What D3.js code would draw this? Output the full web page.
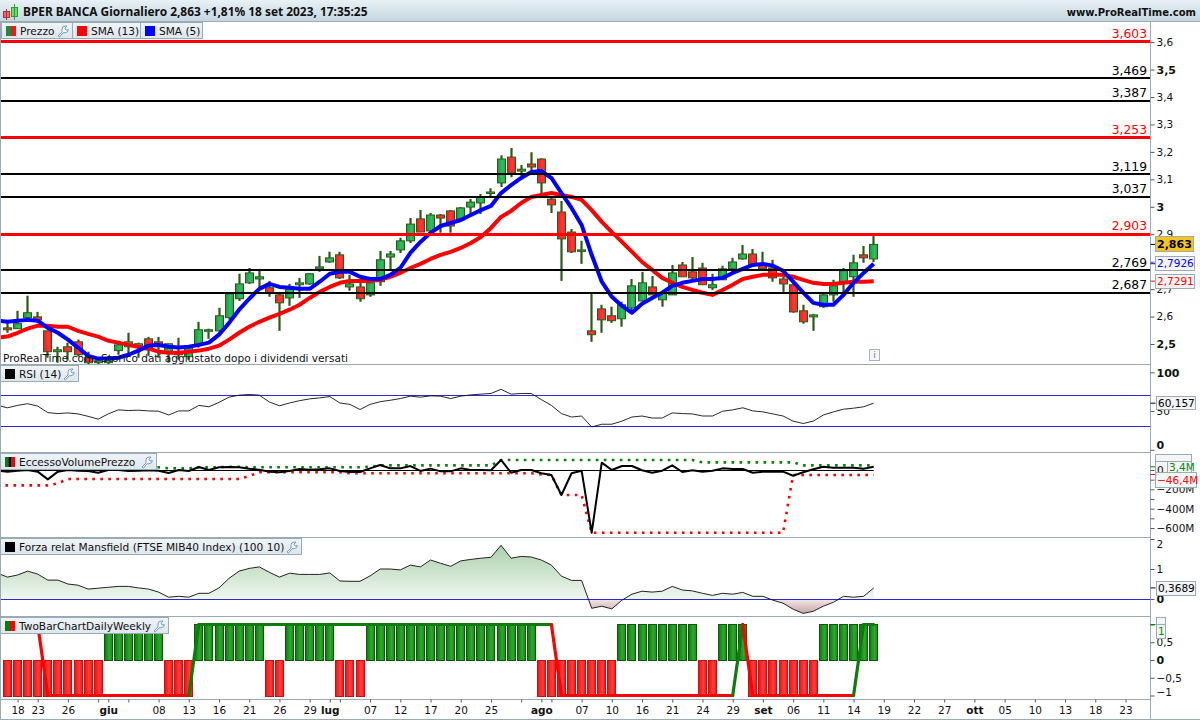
<!DOCTYPE html>
<html><head><meta charset="utf-8">
<script src="https://cdnjs.cloudflare.com/ajax/libs/d3/7.8.5/d3.min.js"></script>
<style>html,body{margin:0;padding:0;background:#fff}svg{display:block}text{font-family:"DejaVu Sans",sans-serif}</style>
</head><body><svg id="c" width="1200" height="720"></svg>
<script>
// ---------- data ----------
const open=[2.559,2.556,2.596,2.599,2.548,2.472,2.490,2.508,2.450,2.432,2.432,2.476,2.490,2.487,2.519,2.508,2.472,2.461,2.454,2.497,2.548,2.548,2.596,2.665,2.723,2.737,2.705,2.679,2.668,2.716,2.719,2.774,2.799,2.825,2.708,2.708,2.679,2.727,2.817,2.843,2.876,2.956,2.912,2.970,2.985,2.952,2.999,3.014,3.050,3.087,3.181,3.130,3.156,3.174,3.028,2.981,2.908,2.839,2.548,2.628,2.603,2.592,2.632,2.657,2.708,2.661,2.679,2.788,2.763,2.777,2.705,2.734,2.774,2.810,2.828,2.785,2.777,2.737,2.716,2.621,2.599,2.636,2.679,2.727,2.745,2.825,2.810];
const close=[2.552,2.574,2.614,2.588,2.472,2.479,2.472,2.461,2.432,2.439,2.450,2.497,2.508,2.501,2.479,2.490,2.501,2.472,2.494,2.552,2.552,2.603,2.683,2.719,2.759,2.745,2.687,2.650,2.701,2.723,2.756,2.781,2.814,2.741,2.719,2.665,2.723,2.807,2.828,2.876,2.937,2.908,2.970,2.959,2.930,2.996,3.017,3.036,3.054,3.174,3.123,3.137,3.145,3.087,3.007,2.883,2.836,2.843,2.534,2.588,2.585,2.643,2.712,2.723,2.679,2.687,2.759,2.745,2.741,2.716,2.716,2.774,2.799,2.828,2.788,2.774,2.741,2.719,2.617,2.581,2.606,2.679,2.712,2.767,2.796,2.814,2.863];
const high=[2.588,2.621,2.676,2.617,2.548,2.490,2.505,2.516,2.472,2.450,2.457,2.512,2.541,2.505,2.526,2.526,2.501,2.523,2.494,2.581,2.556,2.632,2.683,2.756,2.777,2.767,2.730,2.683,2.719,2.741,2.759,2.821,2.836,2.836,2.752,2.727,2.730,2.839,2.839,2.887,2.959,2.988,2.977,2.974,2.988,2.999,3.028,3.047,3.068,3.188,3.214,3.152,3.199,3.177,3.039,3.021,2.919,2.876,2.687,2.643,2.636,2.654,2.737,2.763,2.748,2.687,2.788,2.799,2.817,2.796,2.756,2.785,2.814,2.861,2.846,2.836,2.807,2.745,2.719,2.643,2.610,2.687,2.734,2.777,2.825,2.857,2.894];
const low=[2.541,2.556,2.581,2.577,2.450,2.432,2.439,2.454,2.421,2.414,2.421,2.461,2.461,2.450,2.457,2.450,2.432,2.443,2.443,2.487,2.519,2.541,2.588,2.657,2.719,2.697,2.672,2.548,2.639,2.668,2.716,2.763,2.796,2.737,2.694,2.654,2.672,2.712,2.770,2.832,2.868,2.908,2.912,2.905,2.905,2.952,2.974,2.974,3.036,3.072,3.108,3.112,3.134,3.047,2.977,2.730,2.832,2.792,2.508,2.541,2.577,2.563,2.617,2.657,2.679,2.636,2.679,2.745,2.734,2.716,2.697,2.734,2.759,2.807,2.788,2.770,2.727,2.690,2.614,2.574,2.548,2.632,2.654,2.672,2.672,2.796,2.799];
// the line series start one bar before the first candle, at the chart's left edge
const sma5=[2.585,2.581,2.585,2.588,2.585,2.559,2.541,2.516,2.487,2.457,2.447,2.447,2.450,2.461,2.476,2.494,2.497,2.490,2.487,2.490,2.497,2.505,2.534,2.577,2.625,2.665,2.701,2.719,2.708,2.705,2.701,2.701,2.727,2.756,2.763,2.763,2.745,2.737,2.737,2.752,2.777,2.832,2.872,2.905,2.930,2.941,2.952,2.970,2.988,3.003,3.050,3.079,3.105,3.127,3.130,3.105,3.050,2.996,2.934,2.825,2.727,2.672,2.639,2.614,2.647,2.668,2.687,2.712,2.723,2.730,2.737,2.737,2.741,2.759,2.774,2.788,2.792,2.785,2.767,2.727,2.687,2.650,2.643,2.643,2.679,2.723,2.759,2.7926];
const sma13=[2.523,2.527,2.541,2.556,2.567,2.567,2.563,2.563,2.548,2.537,2.527,2.512,2.505,2.497,2.490,2.483,2.472,2.468,2.468,2.472,2.476,2.483,2.494,2.516,2.541,2.563,2.581,2.596,2.610,2.625,2.643,2.668,2.690,2.708,2.723,2.730,2.730,2.730,2.734,2.745,2.759,2.777,2.792,2.810,2.825,2.836,2.850,2.868,2.890,2.923,2.963,2.985,3.014,3.036,3.043,3.050,3.043,3.036,3.025,2.988,2.945,2.908,2.872,2.836,2.799,2.770,2.741,2.723,2.708,2.697,2.687,2.679,2.697,2.716,2.737,2.745,2.752,2.752,2.752,2.745,2.734,2.723,2.719,2.719,2.723,2.727,2.727,2.7291];
const rsi=[57.3,54.2,57.3,59.5,56.4,48.0,46.7,47.6,46.3,43.2,39.6,46.3,51.5,50.7,51.1,50.2,49.8,44.9,50.2,50.2,57.3,55.5,61.2,67.9,70.5,71.4,70.5,61.7,56.8,60.4,63.4,65.7,67.0,68.7,60.4,58.6,52.0,58.6,62.1,63.9,66.1,69.2,67.9,69.6,69.2,66.1,69.2,70.9,71.8,72.7,78.0,71.8,72.7,72.7,64.8,57.3,46.7,42.3,43.6,29.5,33.0,33.0,37.0,42.3,43.6,41.0,41.0,47.6,46.7,46.3,43.6,43.6,49.8,51.5,54.2,50.2,48.9,46.3,43.6,37.0,33.9,37.0,44.9,48.9,52.4,53.7,55.5,60.157];
const evp=[-7,-17,-7,0,-17,-97,-17,0,-7,-10,-28,0,0,-10,-7,-3,-7,-31,0,-10,31,0,28,31,28,14,3,-17,-24,-10,10,3,7,17,-10,-21,-21,17,52,17,17,41,-10,14,-14,-14,17,0,0,-3,104,-28,0,0,-34,-52,-259,-34,-7,-649,76,0,41,41,-3,-28,-7,48,-21,-3,-17,-7,17,10,10,-28,-17,-17,-17,-59,-24,7,34,24,24,24,14,33.4];
const evpUpper=[28,28,28,28,28,28,28,28,28,28,28,28,28,28,28,28,28,17,17,17,28,28,28,34,34,28,28,28,28,28,28,28,28,28,28,28,28,34,48,48,48,48,48,48,48,48,48,48,48,48,104,104,104,104,104,104,104,104,104,104,104,104,104,104,104,104,104,104,104,104,79,79,79,79,79,79,79,79,79,79,48,48,48,48,48,48,48,48];
const evpLower=[-159,-159,-159,-159,-159,-159,-138,-93,-93,-93,-93,-93,-93,-93,-93,-93,-93,-93,-93,-93,-93,-93,-93,-93,-93,-62,-24,-24,-24,-24,-24,-24,-24,-24,-24,-34,-34,-34,-34,-34,-34,-34,-34,-34,-34,-34,-34,-34,-34,-34,-34,-34,-34,-34,-45,-52,-259,-259,-259,-649,-649,-649,-649,-649,-649,-649,-649,-649,-649,-649,-649,-649,-649,-649,-649,-649,-649,-649,-649,-52,-52,-52,-52,-52,-52,-52,-52,-52];
const mansfield=[.86,.73,.80,.93,.83,.63,.63,.50,.46,.33,.36,.39,.42,.42,.37,.33,.23,.06,.09,.06,.19,.19,.37,.69,.93,1.02,1.07,.89,.73,.86,.82,.82,.82,.87,.60,.59,.59,.77,1.00,1.00,.97,1.13,1.07,1.30,1.19,1.09,1.27,1.32,1.36,1.39,1.79,1.36,1.42,1.40,1.30,1.13,.76,.62,.62,-.31,-.24,-.33,-.04,.16,.26,.23,.26,.42,.30,.27,.19,.12,.19,.16,.22,.09,.09,-.04,-.14,-.34,-.48,-.41,-.24,-.11,.09,.06,.09,.3689];
const daily=[-1,-1,-1,-1,-1,-1,-1,-1,-1,-1,1,1,1,1,1,1,-1,-1,-1,1,1,1,1,1,1,1,-1,-1,1,1,1,1,1,-1,-1,-1,1,1,1,1,1,1,1,1,1,1,1,1,1,1,1,1,1,-1,-1,-1,-1,-1,-1,-1,-1,1,1,1,1,1,1,1,1,-1,-1,1,1,1,-1,-1,-1,-1,-1,-1,-1,1,1,1,1,1,1];
const weekly=[1,1,1,1,-1,-1,-1,-1,-1,-1,-1,-1,-1,-1,-1,-1,-1,-1,-1,1,1,1,1,1,1,1,1,1,1,1,1,1,1,1,1,1,1,1,1,1,1,1,1,1,1,1,1,1,1,1,1,1,1,1,1,-1,-1,-1,-1,-1,-1,-1,-1,-1,-1,-1,-1,-1,-1,-1,-1,-1,-1,1,-1,-1,-1,-1,-1,-1,-1,-1,-1,-1,-1,1,1];
const levelValues=[3.603,3.469,3.387,3.253,3.119,3.037,2.903,2.769,2.687];
const levelColors=["red","black","black","red","black","black","red","black","black"];
const tickIndex=[1,3,6,10,15,18,21,24,27,30,32,36,39,42,45,48,53,57,60,63,66,69,72,75,78,81,84,87,90,93,96,99,102,105,108,111];
const tickLabels=["18","23","26","giu","08","13","16","21","26","29","lug","07","12","17","20","25","ago","07","10","16","21","24","29","set","06","11","14","19","22","27","ott","05","10","13","18","23"];
const minorTickIndex=[9,12,33,51,54];
const monthLabels=["giu","lug","ago","set","ott"];
const priceTicks=[3.6,3.5,3.4,3.3,3.2,3.1,3,2.9,2.8,2.7,2.6,2.5];
const rsiTicks=[100,50,0];
const evpTicks=[0,-200,-400,-600];
const evpMinorTicks=[-100,-300,-500];
const mansTicks=[2,1,0];
const twoTicks=[1,.5,0,-.5,-1];
const titleText="BPER BANCA Giornaliero 2,863 +1,81% 18 set 2023, 17:35:25";

// ---------- scales ----------
const svg=d3.select("#c");
const n=close.length, idx=d3.range(n);
const x=d3.scaleLinear().domain([0,111]).range([7.5,1125.5]);
const yP=d3.scaleLinear().domain([3.603,2.687]).range([41.3,292.7]);
const yR=d3.scaleLinear().domain([0,100]).range([449.8,372.3]);
const yE=d3.scaleLinear().domain([0,-600]).range([470,528]);
const yM=d3.scaleLinear().domain([0,2]).range([599,539]);
const yT=d3.scaleLinear().domain([-1,1]).range([695.5,624.5]);
const PLOTR=1150.5, BW=8;
const fmt=v=>String(v).replace(".",",").replace("-","\u2212");
const snapL=i=>Math.floor(x(i)-4)+.5;   // crisp left edge of a bar
const lx=(d,i)=>x(i-1);                 // line series begin one bar earlier
const border="#9aabb6";

// ---------- defs ----------
const defs=svg.append("defs");
function grad(id,stops,horizontal=false,user=null){
  const g=defs.append("linearGradient").attr("id",id);
  if(user) g.attr("gradientUnits","userSpaceOnUse").attr("x1",0).attr("x2",0).attr("y1",user[0]).attr("y2",user[1]);
  else if(horizontal) g.attr("x1",0).attr("x2",1).attr("y1",0).attr("y2",0);
  else g.attr("x1",0).attr("x2",0).attr("y1",0).attr("y2",1);
  stops.forEach(s=>g.append("stop").attr("offset",s[0]).attr("stop-color",s[1]));
}
grad("gTitle",[[0,"#e8f1f6"],[1,"#c5d6e0"]]);
grad("gLeg",[[0,"#f0f4f7"],[1,"#dde6ec"]]);
grad("gCG",[[0,"#0f9c40"],[.6,"#36bd60"],[1,"#1ea84c"]],true);
grad("gCR",[[0,"#ff1414"],[.6,"#ff3c3c"],[1,"#ff1c1c"]],true);
grad("gBG",[[0,"#0c7a0c"],[.6,"#2fa82f"],[1,"#178c17"]],true);
grad("gBR",[[0,"#f80c0c"],[.6,"#ff4040"],[1,"#f81010"]],true);
grad("gMans",[[0,"#abd0ab"],[.757,"#f0f7f0"],[.757,"#f3e8e8"],[1,"#c09a9a"]],false,[545,616.3]);
[["cP",22,342],["cR",365,87],["cE",453,84],["cM",538,78],["cT",617,82]].forEach(c=>
  defs.append("clipPath").attr("id",c[0]).append("rect").attr("x",1).attr("y",c[1]).attr("width",PLOTR-1).attr("height",c[2]));

// ---------- price panel ----------
const gP=svg.append("g").attr("clip-path","url(#cP)");
const wick="#2c5a16";
gP.selectAll("line.w").data(idx).join("line").attr("class","w")
  .attr("x1",i=>snapL(i)+4).attr("x2",i=>snapL(i)+4).attr("y1",i=>yP(high[i])).attr("y2",i=>yP(low[i]))
  .attr("stroke",wick).attr("stroke-width",2.2);
gP.selectAll("rect.b").data(idx).join("rect").attr("class","b")
  .attr("x",snapL).attr("width",BW)
  .attr("y",i=>yP(Math.max(open[i],close[i])))
  .attr("height",i=>Math.max(1.5,Math.abs(yP(open[i])-yP(close[i]))))
  .attr("fill",i=>close[i]>=open[i]?"url(#gCG)":"url(#gCR)")
  .attr("stroke",wick).attr("stroke-width",1);
const lP=s=>d3.line().x(lx).y(d=>yP(d))(s);
gP.append("path").attr("d",lP(sma13)).attr("fill","none").attr("stroke","#f00").attr("stroke-width",4).attr("stroke-linejoin","round");
gP.append("path").attr("d",lP(sma5)).attr("fill","none").attr("stroke","#00f").attr("stroke-width",4).attr("stroke-linejoin","round");
const levelY=(d,i)=>levelColors[i]==="red"?Math.floor(yP(d)+.6)+.5:Math.round(yP(d));
gP.selectAll("line.l").data(levelValues).join("line").attr("class","l")
  .attr("x1",1).attr("x2",PLOTR).attr("y1",levelY).attr("y2",levelY)
  .attr("stroke",(d,i)=>levelColors[i]==="red"?"#f00":"#000").attr("stroke-width",(d,i)=>levelColors[i]==="red"?3:2);
svg.selectAll("text.lv").data(levelValues).join("text").attr("class","lv")
  .attr("x",1147).attr("y",d=>yP(d)-3.5).attr("text-anchor","end").attr("font-size",12.3)
  .attr("fill",(d,i)=>levelColors[i]==="red"?"#f00":"#000").text(d=>String(d).replace(".",","));
svg.append("text").attr("x",3).attr("y",362).attr("font-size",10.55).attr("fill","#111")
  .text("ProRealTime.com: Storico dati aggiustato dopo i dividendi versati");
svg.append("rect").attr("x",869.5).attr("y",349.5).attr("width",10).attr("height",11).attr("fill","#f4f6f7").attr("stroke","#a8b4bc");
svg.append("text").attr("x",874.5).attr("y",358).attr("text-anchor","middle").attr("font-size",8).attr("fill","#667").text("i");

// ---------- RSI ----------
const gR=svg.append("g").attr("clip-path","url(#cR)");
[70,30].forEach(v=>gR.append("line").attr("x1",1).attr("x2",PLOTR).attr("y1",Math.floor(yR(v))+.5).attr("y2",Math.floor(yR(v))+.5).attr("stroke","#2a2ad2").attr("stroke-width",1));
gR.append("path").attr("d",d3.line().x(lx).y(d=>yR(d))(rsi)).attr("fill","none").attr("stroke","#111").attr("stroke-width",.9);

// ---------- volume excess ----------
const gE=svg.append("g").attr("clip-path","url(#cE)");
const lE=d3.line().x(lx).y(d=>yE(d));
gE.append("line").attr("x1",1).attr("x2",x(n-1)).attr("y1",yE(0)+.5).attr("y2",yE(0)+.5).attr("stroke","#000").attr("stroke-width",1);
gE.append("path").attr("d",lE(evpUpper)).attr("fill","none").attr("stroke","#0a7d0a").attr("stroke-width",2.6).attr("stroke-dasharray","2.6 5.4");
gE.append("path").attr("d",lE(evpLower)).attr("fill","none").attr("stroke","#f00").attr("stroke-width",2.6).attr("stroke-dasharray","2.6 5.4");
gE.append("path").attr("d",lE(evp)).attr("fill","none").attr("stroke","#000").attr("stroke-width",2).attr("stroke-linejoin","round");

// ---------- Mansfield ----------
const gM=svg.append("g").attr("clip-path","url(#cM)");
gM.append("path").attr("d",d3.area().x(lx).y0(yM(0)).y1(d=>yM(d))(mansfield)).attr("fill","url(#gMans)");
gM.append("line").attr("x1",1).attr("x2",PLOTR).attr("y1",yM(0)+.5).attr("y2",yM(0)+.5).attr("stroke","#2a2ad2").attr("stroke-width",1);
gM.append("path").attr("d",d3.line().x(lx).y(d=>yM(d))(mansfield)).attr("fill","none").attr("stroke","#222").attr("stroke-width",1);

// ---------- two bar ----------
const gT=svg.append("g").attr("clip-path","url(#cT)");
gT.selectAll("rect.t").data(idx).join("rect").attr("class","t")
  .attr("x",snapL).attr("width",BW)
  .attr("y",i=>Math.floor(daily[i]>0?yT(1):yT(0))+.5).attr("height",i=>Math.round(Math.abs(yT(daily[i])-yT(0))))
  .attr("fill",i=>daily[i]>0?"url(#gBG)":"url(#gBR)")
  .attr("stroke",i=>daily[i]>0?"#0a5a0a":"#c81010").attr("stroke-width",1);
const segL=d3.line().x(i=>x(i)).y(i=>yT(weekly[i]));
idx.slice(1).forEach(i=>gT.append("path").attr("d",segL([i-1,i])).attr("stroke",weekly[i]>0?"#0a7d0a":"#f00").attr("stroke-width",3.2).attr("stroke-linecap","round").attr("fill","none"));

// ---------- frame ----------
const sep=(x1,y1,x2,y2)=>svg.append("line").attr("x1",x1).attr("y1",y1).attr("x2",x2).attr("y2",y2).attr("stroke",border).attr("stroke-width",1);
[364.5,452.5,537.5,616.5].forEach(y=>sep(0,y,PLOTR,y));
sep(0,699.5,PLOTR,699.5); sep(0,719.5,1200,719.5); sep(PLOTR,21,PLOTR,720); sep(.5,21,.5,720);

// ---------- title ----------
svg.append("rect").attr("width",1200).attr("height",21).attr("fill","url(#gTitle)");
sep(0,21.5,1200,21.5);
svg.append("rect").attr("x",3.5).attr("y",11.5).attr("width",6).attr("height",6).attr("fill","#ee6a6a").attr("stroke","#a33");
svg.append("line").attr("x1",6.5).attr("x2",6.5).attr("y1",9).attr("y2",20).attr("stroke","#a33");
svg.append("rect").attr("x",11.5).attr("y",7.5).attr("width",6).attr("height",9).attr("fill","#66dd66").attr("stroke","#393");
svg.append("line").attr("x1",14.5).attr("x2",14.5).attr("y1",4).attr("y2",20).attr("stroke","#393");
svg.append("text").attr("x",23).attr("y",16).attr("font-size",11.9).attr("font-weight","bold").attr("fill","#111")
  .style("font-family",'"Noto Sans",sans-serif').text(titleText);
svg.append("text").attr("x",1196).attr("y",16).attr("text-anchor","end").attr("font-size",10).attr("font-weight","bold").attr("fill","#111").text("www.ProRealTime.com");

// ---------- legends ----------
function wrench(px,py){
  svg.append("path").attr("transform",`translate(${px},${py})`)
    .attr("d","M1 11 L5 7 L5 4 Q5 1 8.5 1 L10 1 L8 3.2 L9 5 L11.3 4.6 Q11.5 7.5 8 7.7 L6 7.8 L2.5 12 Z")
    .attr("fill","#f6f9fb").attr("stroke","#6b93b5").attr("stroke-width",.9);
}
function legend(x0,x1,y0,y1,colors,label,wr){
  svg.append("rect").attr("x",x0+.5).attr("y",y0+.5).attr("width",x1-x0).attr("height",y1-y0).attr("fill","url(#gLeg)").attr("stroke",border);
  const sw=10/colors.length;
  colors.forEach((c,i)=>svg.append("rect").attr("x",x0+5+i*sw).attr("y",y0+4).attr("width",sw).attr("height",10).attr("fill",c));
  svg.append("text").attr("x",x0+19).attr("y",y0+13).attr("font-size",10.6).attr("fill","#111").text(label);
  if(wr) wrench(x1-15,y0+3);
}
legend(1,72,22,38,["#1a8c3c","#f01818"],"Prezzo",true);
legend(72,140,22,38,["#f00"],"SMA (13)",false);
legend(140,202,22,38,["#00f"],"SMA (5)",false);
legend(0,78,365,381,["#000"],"RSI (14)",true);
legend(0,156,453,469,["#0a7d0a","#000","#f00"],"EccessoVolumePrezzo",true);
legend(0,301,538,554,["#000"],"Forza relat Mansfield (FTSE MIB40 Index) (100 10)",true);
legend(0,168,617,633,["#0a7d0a","#f00"],"TwoBarChartDailyWeekly",true);

// ---------- axes ----------
const boldVals=new Set([3.5,3,2.5,100,0]);
function axis(scale,ticks,format,shift={}){
  const g=svg.append("g").attr("transform",`translate(${PLOTR},0)`)
    .call(d3.axisRight(scale).tickValues(ticks).tickSize(4).tickPadding(2).tickFormat(format));
  g.select(".domain").remove();
  g.selectAll(".tick line").attr("stroke","#556");
  g.selectAll(".tick text").attr("fill","#111")
    .attr("font-family",'"DejaVu Sans",sans-serif')
    .attr("font-size",d=>boldVals.has(d)&&scale!==yE?11:10.5)
    .attr("font-weight",d=>boldVals.has(d)&&scale!==yE?"bold":"normal")
    .attr("y",d=>shift[d]||0);
}
axis(yP,priceTicks,d=>fmt(d));
axis(yR,rsiTicks,d=>fmt(d),{0:-5,100:.5});
axis(yE,evpTicks,d=>d===0?"0":fmt(d)+"M");
axis(yE,evpMinorTicks,()=>"");
axis(yM,mansTicks,d=>fmt(d),{2:5.5});
axis(yT,twoTicks,d=>fmt(d),{"-1":-3.5});

function xAxis(ticks,format){
  const g=svg.append("g").attr("transform","translate(0,699.5)")
    .call(d3.axisBottom(x).tickValues(ticks).tickSize(3).tickPadding(4).tickFormat(format));
  g.select(".domain").remove();
  g.selectAll(".tick line").attr("stroke","#556");
  return g;
}
xAxis(minorTickIndex,()=>"");
xAxis(tickIndex,(d,i)=>tickLabels[i]).selectAll(".tick text").attr("fill","#111").attr("font-family",'"DejaVu Sans",sans-serif').attr("font-size",10.5)
  .attr("font-weight",(d,i)=>monthLabels.includes(tickLabels[i])?"bold":"normal");

// ---------- value badges ----------
function badge(x0,y0,w,h,txt,color,fill="#f3f5f6",weight="normal",size=10.5){
  svg.append("rect").attr("x",x0+.5).attr("y",y0+.5).attr("width",w).attr("height",h).attr("fill",fill).attr("stroke",border);
  if(txt) svg.append("text").attr("x",x0+2).attr("y",y0+h/2+4).attr("font-size",size).attr("font-weight",weight).attr("fill",color).text(txt);
}
const tk=(y,c)=>svg.append("line").attr("x1",PLOTR).attr("x2",PLOTR+5).attr("y1",y).attr("y2",y).attr("stroke",c);
tk(yP(2.863),"#000"); tk(yP(2.7926),"#00f"); tk(yP(2.7291),"#f00");
badge(1155,236,38,15,"2,863","#000","#f5c518","bold",11);
badge(1155,256,39,14,"2,7926","#00f");
badge(1155,274,39,14,"2,7291","#f00");
tk(yR(60.157),"#000");
badge(1156,396,39,13,"60,157","#000");
tk(yE(33.4),"#0a7d0a"); tk(yE(-46.4),"#f00");
badge(1155,454,36,12,"","#000");
badge(1155,461,12,12,"","#000");
svg.append("text").attr("x",1157).attr("y",474).attr("font-size",10.5).attr("fill","#111").text("0");
badge(1167,461,24,12,"3,4M","#0a8a0a");
badge(1155,472,41,15,"\u221246,4M","#f00");
tk(yM(.3689),"#000");
badge(1156,581,39,14,"0,3689","#000");
tk(yT(1),"#0a7d0a");
badge(1156,617,9,7,"","#000");
badge(1156,624,9,14,"1","#0a8a0a");
</script></body></html>
